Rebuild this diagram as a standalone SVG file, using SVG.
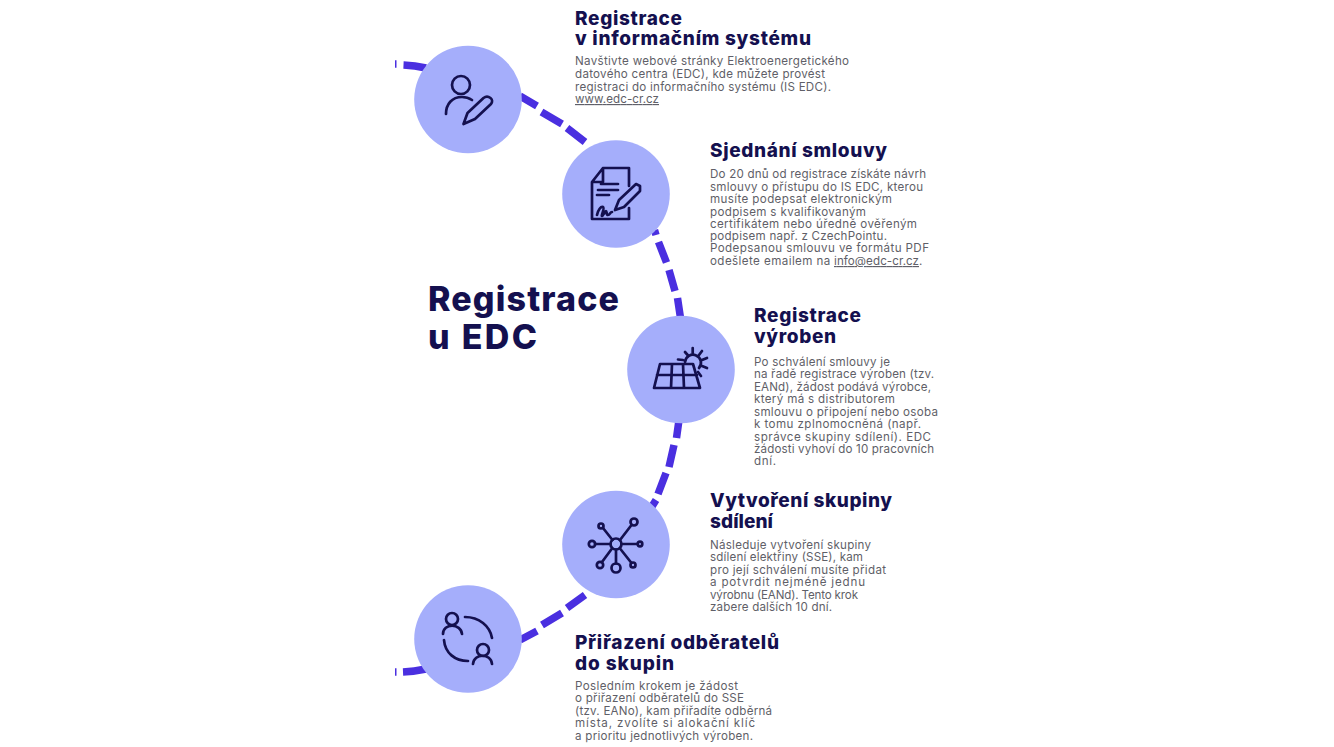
<svg xmlns="http://www.w3.org/2000/svg" width="1334" height="747" viewBox="0 0 1334 747">
<style>
text{font-family:"Inter","Open Sans","Liberation Sans",sans-serif}
.t{font-size:19px;font-weight:800;fill:#14104f}
.b{font-size:11.6px;fill:#5f5f68}
.c{fill:#a5aefb}
.d{stroke:#4a2fe0;stroke-width:7.5;fill:none}
.i{stroke:#14104f;stroke-width:2.7;fill:none;stroke-linecap:round;stroke-linejoin:round}
</style>
<rect width="1334" height="747" fill="#fff"/>
<g id="connectors" class="d">
<path d="M395 64h1.500M403.500 65Q415 65.500 426 68"/>
<path d="M520 96L537 106M541.500 112L562 124M567 128L585 142"/>
<path d="M654.500 230L656 235M658.500 242L666.500 262.500M669 270L675 291M677.500 298L680.500 318"/>
<path d="M679 420L676.500 438M674 445L669 467M666 473L658 494M656 500L651 508"/>
<path d="M520 640L537 631M542 625L562 613M567 608L585 595"/>
<path d="M395 672h1.500M403 672Q414 671.500 426 669"/>
</g>
<text id="heading" font-size="34" font-weight="800" fill="#14104f"><tspan x="428" y="311" textLength="191">Registrace</tspan><tspan x="428" y="349" textLength="109">u EDC</tspan></text>
<g id="node1"><circle class="c" cx="468" cy="99.500" r="53.800"/>
<path class="i" d="M446 114c0-10 6-17 16-17 4 0 7 1 10 3"/><circle class="i" cx="461" cy="85" r="9"/><path class="i" d="M463.500 124l4-11 16-15c2-1.500 5-1.500 7 0s2 4 .5 6l-16 15z"/></g>
<g id="node2"><circle class="c" cx="616" cy="194" r="53.800"/>
<path class="i" d="M629 186V168H603L592 182V219H629V208M603 168V182H592M601 184H618M598 190H618M597 195H609"/><path class="i" d="M597 215c1-5 4-9 6-8s-2 9-1 9 3-5 4-5 0 4 2 4 2-3 4-3"/><path class="i" d="M615 210l4-10 17-16 4 2v5l-16 16z"/></g>
<g id="node3"><circle class="c" cx="681" cy="369.500" r="53.800"/>
<path class="i" d="M660 364H693L700 388H654ZM657 375H697M672 364L671 388M683 364L684 388"/><path class="i" d="M685 362a8 8 0 1 1 14 6M692.700 348v6M685 352l3.500 4M678 359.500l5 .5M699 355l3-4M702 360l5-2M702 366l5 2M698 372l3 4"/></g>
<g id="node4"><circle class="c" cx="616" cy="544.500" r="53.800"/>
<g class="i"><circle cx="616" cy="544" r="5.500"/><circle cx="634" cy="522" r="3.500"/><circle cx="601" cy="526" r="2.500"/><circle cx="592" cy="544" r="3.200"/><circle cx="640" cy="544" r="2.300"/><circle cx="600" cy="565" r="3.200"/><circle cx="616" cy="568" r="4.500"/><circle cx="633" cy="565" r="2.500"/>
<path d="M620 540L631.500 525M612.500 540L603 528M610.500 544H595M621.500 544H637.500M612 548.500L602 562M616 549.500V563.500M620 548.500L631.500 563"/></g></g>
<g id="node5"><circle class="c" cx="468" cy="639" r="53.800"/>
<g class="i"><circle cx="452" cy="619" r="6"/><path d="M443 634c0-11 18-11 19 0M465 617c14 0 25 9 27 21M444 640c1 13 11 21 24 21M473 664c1-11 18-11 19 0"/><circle cx="483" cy="650" r="6"/></g></g>
<g id="text1"><text class="t"><tspan x="575" y="24.500" textLength="107">Registrace</tspan><tspan x="575" y="45" textLength="236">v informačním systému</tspan></text>
<text class="b"><tspan x="575" y="65" textLength="274">Navštivte webové stránky Elektroenergetického</tspan><tspan x="575" y="78" textLength="250">datového centra (EDC), kde můžete provést</tspan><tspan x="575" y="91" textLength="256">registraci do informačního systému (IS EDC).</tspan><tspan x="575" y="103" textLength="84" text-decoration="underline">www.edc-cr.cz</tspan></text></g>
<g id="text2"><text class="t" x="710" y="157" textLength="177">Sjednání smlouvy</text>
<text class="b"><tspan x="710" y="178" textLength="216">Do 20 dnů od registrace získáte návrh</tspan><tspan x="710" y="191" textLength="213">smlouvy o přístupu do IS EDC, kterou</tspan><tspan x="710" y="203" textLength="182">musíte podepsat elektronickým</tspan><tspan x="710" y="215.500" textLength="156">podpisem s kvalifikovaným</tspan><tspan x="710" y="228" textLength="207">certifikátem nebo úředně ověřeným</tspan><tspan x="710" y="240" textLength="177">podpisem např. z CzechPointu.</tspan><tspan x="710" y="252" textLength="219">Podepsanou smlouvu ve formátu PDF</tspan><tspan x="710" y="265" textLength="124">odešlete emailem na </tspan><tspan x="834" y="265" textLength="85" text-decoration="underline">info@edc-cr.cz</tspan><tspan x="919" y="265">.</tspan></text></g>
<g id="text3"><text class="t"><tspan x="754" y="322" textLength="107">Registrace</tspan><tspan x="754" y="342.500" textLength="82">výroben</tspan></text>
<text class="b"><tspan x="754" y="366" textLength="136">Po schválení smlouvy je</tspan><tspan x="754" y="378" textLength="180">na řadě registrace výroben (tzv.</tspan><tspan x="754" y="391" textLength="177">EANd), žádost podává výrobce,</tspan><tspan x="754" y="403" textLength="141">který má s distributorem</tspan><tspan x="754" y="416" textLength="184">smlouvu o připojení nebo osoba</tspan><tspan x="754" y="428" textLength="167">k tomu zplnomocněná (např.</tspan><tspan x="754" y="441" textLength="177">správce skupiny sdílení). EDC</tspan><tspan x="754" y="453" textLength="180">žádosti vyhoví do 10 pracovních</tspan><tspan x="754" y="465" textLength="22">dní.</tspan></text></g>
<g id="text4"><text class="t"><tspan x="710" y="507" textLength="182">Vytvoření skupiny</tspan><tspan x="710" y="527.500" textLength="63">sdílení</tspan></text>
<text class="b"><tspan x="710" y="549" textLength="161">Následuje vytvoření skupiny</tspan><tspan x="710" y="561" textLength="153">sdílení elektřiny (SSE), kam</tspan><tspan x="710" y="574" textLength="176">pro její schválení musíte přidat</tspan><tspan x="710" y="586" textLength="155">a potvrdit nejméně jednu</tspan><tspan x="710" y="599" textLength="148">výrobnu (EANd). Tento krok</tspan><tspan x="710" y="611" textLength="122">zabere dalších 10 dní.</tspan></text></g>
<g id="text5"><text class="t"><tspan x="575" y="649" textLength="204">Přiřazení odběratelů</tspan><tspan x="575" y="669.500" textLength="99">do skupin</tspan></text>
<text class="b"><tspan x="575" y="690" textLength="163">Posledním krokem je žádost</tspan><tspan x="575" y="702" textLength="169">o přiřazení odběratelů do SSE</tspan><tspan x="575" y="715" textLength="197">(tzv. EANo), kam přiřadíte odběrná</tspan><tspan x="575" y="727" textLength="180">místa, zvolíte si alokační klíč</tspan><tspan x="575" y="740" textLength="178">a prioritu jednotlivých výroben.</tspan></text></g>
</svg>
